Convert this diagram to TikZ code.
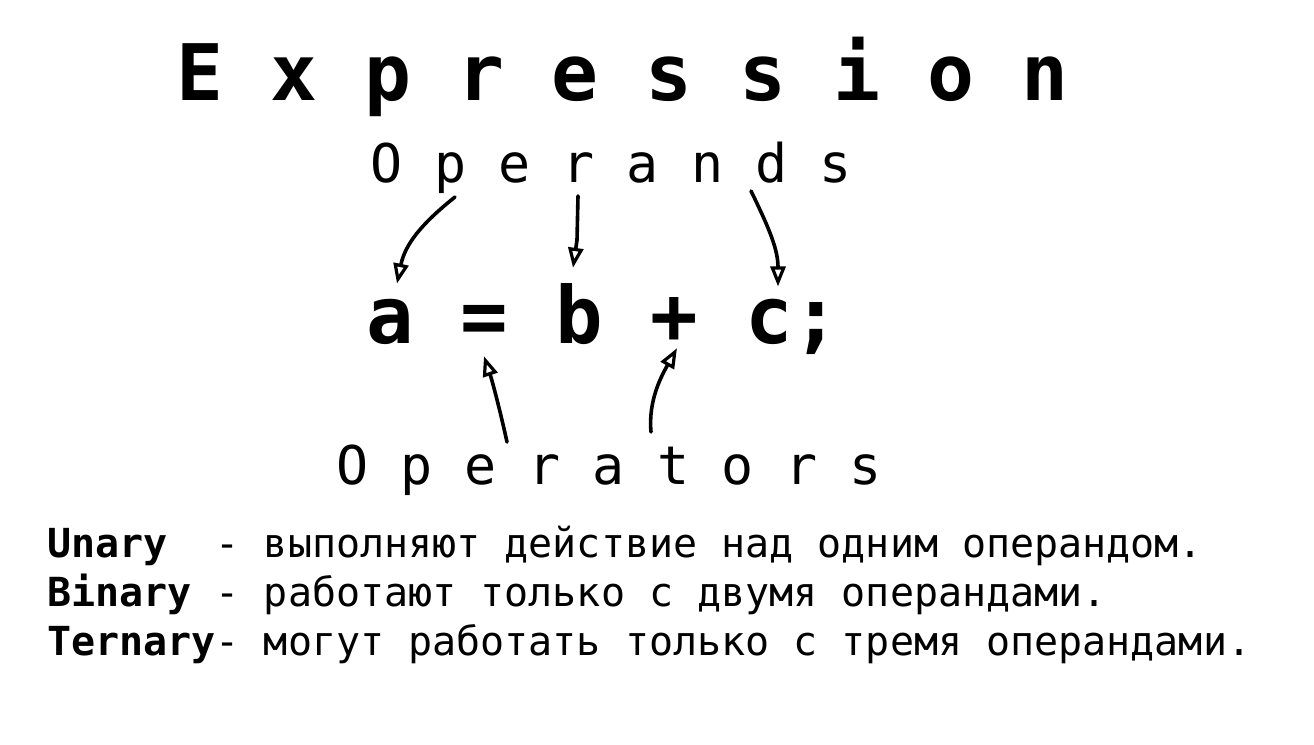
\documentclass[tikz,border=0pt]{standalone}
\usepackage{fontspec}
\newfontfamily\mono{DejaVu Sans Mono}
\usetikzlibrary{arrows.meta}
\tikzset{
  txt/.style={inner sep=0pt, anchor=base west, font=\mono},
  big/.style={txt, font=\mono\bfseries\fontsize{78}{80}\selectfont},
  mid/.style={txt, font=\mono\fontsize{53.3}{56}\selectfont},
  tok/.style={txt, font=\mono\bfseries\fontsize{79}{80}\selectfont},
  small/.style={txt, font=\mono\fontsize{40}{42}\selectfont},
  hand/.style={line width=3.6pt, line cap=round, line join=round,
    -{Triangle[open, length=20pt, width=15pt, line width=3.2pt]}}
}
\begin{document}
\begin{tikzpicture}[x=1pt, y=-1pt]
\useasboundingbox[fill=white] (0,0) rectangle (1314,744);
\node[big] (title) at (176,100) {E~x~p~r~e~s~s~i~o~n};
\node[mid] (opd) at (370,182) {O~p~e~r~a~n~d~s};
\node[tok] (ta) at (366,343) {a};
\node[tok] (teq) at (460,343) {=};
\node[tok] (tb) at (555,343) {b};
\node[tok] (tplus) at (650,343) {+};
\node[tok] (tc) at (745,343) {c};
\node[tok] (tsemi) at (792,343) {;};
\node[mid] (opr) at (336,484) {O~p~e~r~a~t~o~r~s};
\node[small] (l1) at (47,557) {{\bfseries Unary}~~-~выполняют~действие~над~одним~операндом.};
\node[small] (l2) at (47,606) {{\bfseries Binary}~-~работают~только~с~двумя~операндами.};
\node[small] (l3) at (47,655) {{\bfseries Ternary}-~могут~работать~только~с~тремя~операндами.};
\coordinate (s1) at (455,197);
\coordinate (s2) at (578,196);
\coordinate (s3) at (751,191);
\coordinate (s4) at (507,442);
\coordinate (s5) at (651,432);
\coordinate (e1) at ([shift={(31,-15)}]ta.north west);
\coordinate (e2) at ([shift={(18,-15)}]tb.north west);
\coordinate (e3) at ([shift={(33,-12)}]tc.north west);
\coordinate (e4) at ([shift={(0,13)}]teq.south);
\coordinate (e5) at ([shift={(3,5)}]tplus.south);
\draw[hand] (s1) .. controls (420,225) and (405,245) .. (e1);
\draw[hand] (s2) -- (577,240) -- (e2);
\draw[hand] (s3) .. controls (770,230) and (778,250) .. (e3);
\draw[hand] (s4) .. controls (500,410) and (492,380) .. (e4);
\draw[hand] (s5) .. controls (648,400) and (662,375) .. (e5);
\end{tikzpicture}
\end{document}
